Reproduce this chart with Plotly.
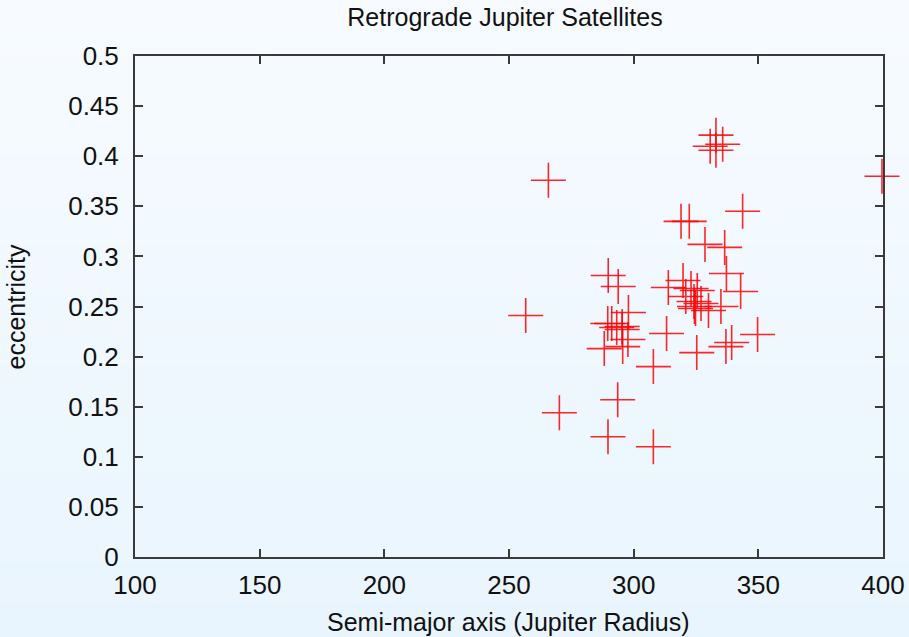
import base64
import struct
import zlib

import plotly.graph_objects as go

# Retrograde satellites of Jupiter: semi-major axis (Jupiter radii) vs eccentricity
semi_major_axis = [
    265.8, 319.0, 322.3, 328.6, 336.5, 343.7, 333.0, 330.7, 335.7, 333.0,
    399.6, 337.2, 342.9, 335.0, 330.0, 349.7, 339.3, 337.0, 313.9, 319.8,
    323.0, 325.5, 320.9, 324.2, 327.0, 324.4, 324.8, 313.2, 325.3, 289.8,
    293.8, 297.9, 289.6, 291.2, 293.2, 295.4, 295.4, 297.7, 295.6, 288.2,
    307.9, 293.6, 289.7, 307.9, 270.2, 256.7,
]
eccentricity = [
    0.376, 0.335, 0.335, 0.312, 0.309, 0.345, 0.421, 0.410, 0.412, 0.406,
    0.380, 0.283, 0.265, 0.250, 0.246, 0.222, 0.214, 0.210, 0.269, 0.276,
    0.268, 0.266, 0.260, 0.255, 0.253, 0.250, 0.248, 0.223, 0.204, 0.281,
    0.270, 0.244, 0.233, 0.233, 0.229, 0.230, 0.227, 0.217, 0.210, 0.208,
    0.190, 0.157, 0.120, 0.110, 0.144, 0.241,
]

x_ticks = [100, 150, 200, 250, 300, 350, 400]
y_ticks = [0, 0.05, 0.1, 0.15, 0.2, 0.25, 0.3, 0.35, 0.4, 0.45, 0.5]
y_tick_text = ["0", "0.05", "0.1", "0.15", "0.2", "0.25", "0.3", "0.35", "0.4", "0.45", "0.5"]


def vertical_gradient_png(top, bottom, height=64):
    """Build a 1-pixel-wide PNG that fades from top colour to bottom colour."""
    rows = b""
    for i in range(height):
        t = i / (height - 1)
        px = bytes(round(a + (b - a) * t) for a, b in zip(top, bottom))
        rows += b"\x00" + px

    def chunk(tag, data):
        c = struct.pack(">I", len(data)) + tag + data
        return c + struct.pack(">I", zlib.crc32(tag + data) & 0xFFFFFFFF)

    png = b"\x89PNG\r\n\x1a\n"
    png += chunk(b"IHDR", struct.pack(">IIBBBBB", 1, height, 8, 2, 0, 0, 0))
    png += chunk(b"IDAT", zlib.compress(rows))
    png += chunk(b"IEND", b"")
    return "data:image/png;base64," + base64.b64encode(png).decode()


W, H = 909, 637
ML, MR, MT, MB = 135, 26, 56, 80
pw, ph = W - ML - MR, H - MT - MB

FONT = "Liberation Sans, Arial, sans-serif"
TEXT_COLOR = "#111111"
AXIS_COLOR = "#3a3a3a"

fig = go.Figure(
    go.Scatter(
        x=semi_major_axis,
        y=eccentricity,
        mode="markers",
        marker=dict(
            symbol="cross-thin",
            size=25,
            color="red",
            line=dict(color="rgba(255,0,0,0.85)", width=1.6),
        ),
        cliponaxis=False,
        showlegend=False,
        hoverinfo="x+y",
    )
)

axis_common = dict(
    automargin=False,
    showgrid=False,
    zeroline=False,
    showline=True,
    linecolor=AXIS_COLOR,
    linewidth=2,
    mirror="ticks",
    ticks="inside",
    ticklen=8,
    tickwidth=1.5,
    tickcolor=AXIS_COLOR,
    tickfont=dict(family=FONT, size=26, color=TEXT_COLOR),
)

fig.update_xaxes(
    range=[100, 400],
    tickvals=x_ticks,
    ticktext=[str(v) for v in x_ticks],
    ticklabelstandoff=4,
    **axis_common,
)
fig.update_yaxes(
    range=[0, 0.5],
    tickvals=y_ticks,
    ticktext=y_tick_text,
    ticklabelstandoff=9,
    **axis_common,
)

fig.update_layout(
    width=W,
    height=H,
    margin=dict(l=ML, r=MR, t=MT, b=MB, autoexpand=False),
    paper_bgcolor="rgba(0,0,0,0)",
    plot_bgcolor="rgba(0,0,0,0)",
    title=dict(
        text="Retrograde Jupiter Satellites",
        font=dict(family=FONT, size=25, color=TEXT_COLOR),
        x=505 / W,
        xref="container",
        xanchor="center",
        y=1 - 17 / H,
        yanchor="middle",
    ),
    annotations=[
        dict(
            text="Semi-major axis (Jupiter Radius)",
            xref="paper",
            yref="paper",
            x=(508 - ML) / pw,
            y=-(622 - (H - MB)) / ph,
            xanchor="center",
            yanchor="middle",
            showarrow=False,
            font=dict(family=FONT, size=25, color=TEXT_COLOR),
        ),
        dict(
            text="eccentricity",
            xref="paper",
            yref="paper",
            x=-(ML - 15) / pw,
            y=0.5,
            xanchor="center",
            yanchor="middle",
            textangle=-90,
            showarrow=False,
            font=dict(family=FONT, size=25, color=TEXT_COLOR),
        ),
    ],
    images=[
        dict(
            source=vertical_gradient_png((247, 251, 255), (233, 245, 254)),
            xref="paper",
            yref="paper",
            x=-ML / pw,
            y=1 + MT / ph,
            sizex=W / pw,
            sizey=H / ph,
            xanchor="left",
            yanchor="top",
            sizing="stretch",
            layer="below",
        )
    ],
)

fig.write_html("out.html")
